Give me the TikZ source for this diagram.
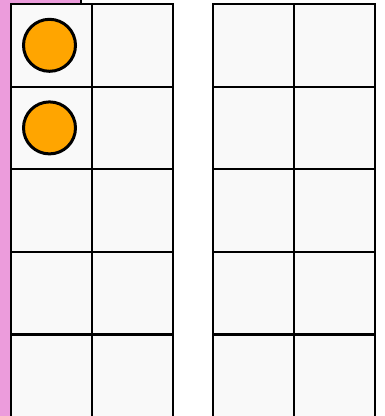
\documentclass[tikz,border=0pt]{standalone}
\usepackage{tikz}

\definecolor{stripPink}{RGB}{236,156,220}
\definecolor{counterOrange}{RGB}{255,165,0}
\definecolor{cellShade}{RGB}{249,249,249}

\tikzset{
    cell/.style={draw, line width=2.2pt, minimum width=81pt, minimum height=82.6pt, inner sep=0pt, outer sep=0pt},
    counter/.style={circle, draw, line width=3pt, fill=counterOrange, minimum size=52pt, inner sep=0pt}
}

\begin{document}
\begin{tikzpicture}[x=1pt, y=-1pt]
    
        % Frame
        \useasboundingbox (0,0) rectangle (385,416);
        \fill[white] (0,0) rectangle (385,416);
        \fill[stripPink] (0,0) rectangle (81,416);
        \draw[line width=2pt] (81,0) -- (81,5);
        
        % Shaded backgrounds
        \fill[cellShade] (11,4) rectangle (173,417);
        \fill[cellShade] (213,4) rectangle (375,417);
        
        % Ten frames
        \foreach \r in {1,...,5} {
            \foreach \c in {1,2} {
                \node[cell] (L-\r-\c) at ({11+81*(\c-0.5)},{4+82.6*(\r-0.5)}) {};
                \node[cell] (R-\r-\c) at ({213+81*(\c-0.5)},{4+82.6*(\r-0.5)}) {};
            }
        }
        
        % Outer borders
        \draw[line width=2.8pt] (L-1-1.north west) rectangle (L-5-2.south east);
        \draw[line width=2.8pt] (R-1-1.north west) rectangle (R-5-2.south east);
        
        % Counters
        \node[counter] (c1) at ([xshift=-2pt]L-1-1.center) {};
        \node[counter] (c2) at ([xshift=-2pt]L-2-1.center) {};
        
        \end{tikzpicture}
\end{document}
